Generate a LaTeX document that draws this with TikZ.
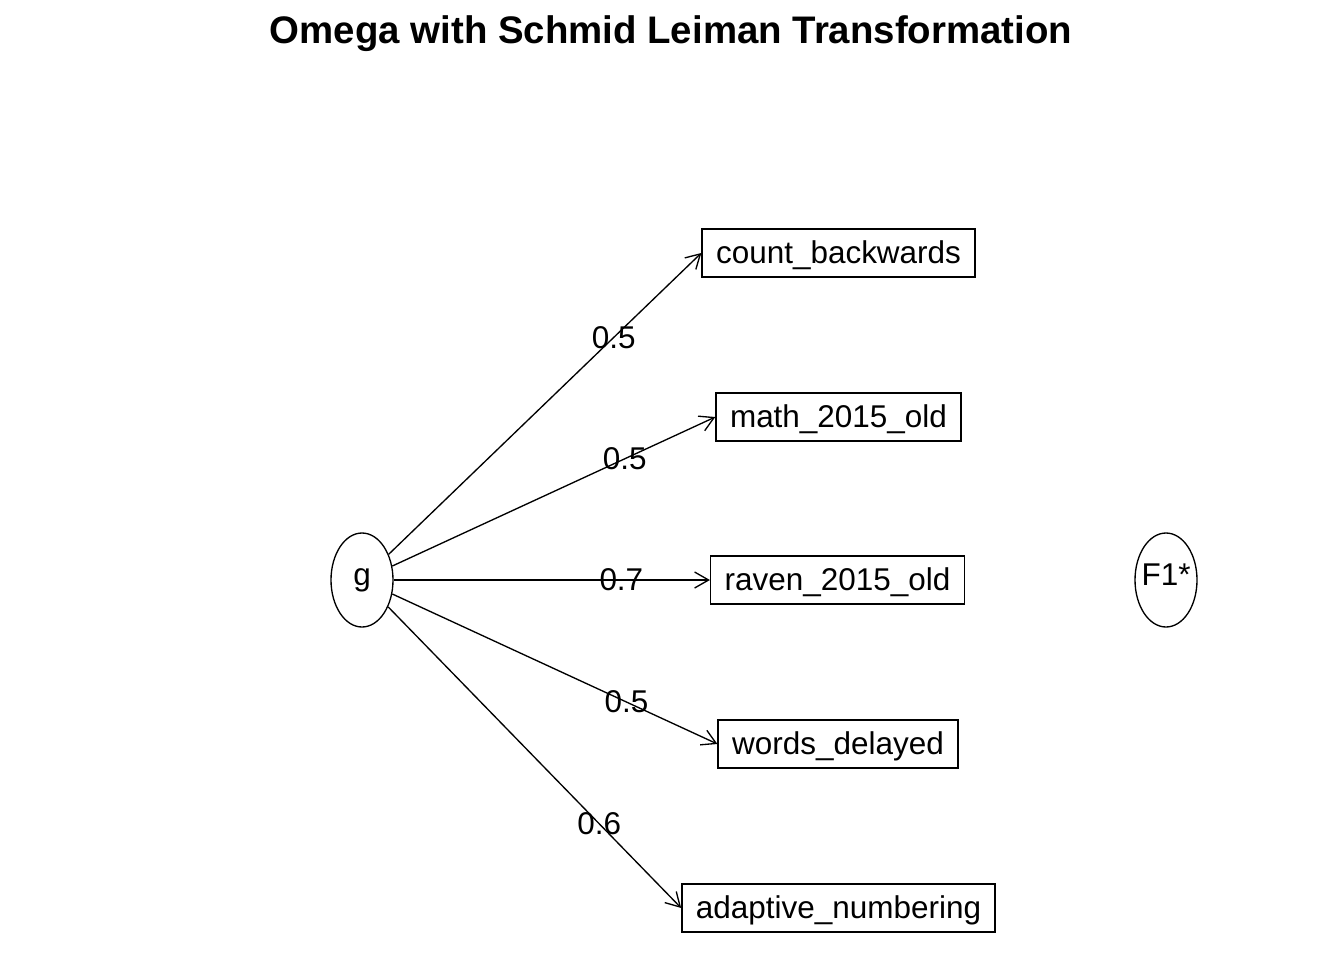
\documentclass[tikz,border=0pt]{standalone}
\usepackage{fontspec}
\setmainfont{Liberation Sans}
\usetikzlibrary{shapes.geometric,arrows.meta}
\begin{document}
\begin{tikzpicture}[x=0.75pt,y=-0.75pt,
  obsbox/.style={draw,line width=1.1pt,rectangle,minimum height=36pt,inner xsep=10.5pt,inner ysep=0pt,text height=17pt,text depth=2pt,font=\fontsize{23.6}{28}\selectfont},
  latent/.style={draw,line width=1pt,ellipse,inner sep=0pt,minimum width=46.5pt,minimum height=70.5pt,text height=9.5pt,text depth=2pt,font=\fontsize{23.6}{28}\selectfont},
  arr/.style={line width=1pt,-{Straight Barb[length=10.5pt,width=12pt,line width=1pt]}},
  lbl/.style={font=\fontsize{23.6}{28}\selectfont,inner sep=0pt}
]
\useasboundingbox (0,0) rectangle (1344,960);
\node[anchor=base,font=\bfseries\fontsize{28.8}{34}\selectfont] (title) at (671,43) {Omega with Schmid Leiman Transformation};
\node[latent] (g) at (362,580) {\makebox[0pt]{g}};
\node[latent] (f1) at (1166,580) {\makebox[0pt]{F1*}};
\node[obsbox] (cb) at (838.5,253) {count\_backwards};
\node[obsbox] (m15) at (838.5,417) {math\_2015\_old};
\node[obsbox] (r15) at (837.5,580) {raven\_2015\_old};
\node[obsbox] (wd) at (838,744) {words\_delayed};
\node[obsbox] (an) at (838.5,908) {adaptive\_numbering};
\draw[arr] (g) -- (cb.west) node[lbl,pos=0.72] {0.5};
\draw[arr] (g) -- (m15.west) node[lbl,pos=0.72] {0.5};
\draw[arr] (g) -- (r15.west) node[lbl,pos=0.72] {0.7};
\draw[arr] (g) -- (wd.west) node[lbl,pos=0.72] {0.5};
\draw[arr] (g) -- (an.west) node[lbl,pos=0.72] {0.6};
\end{tikzpicture}
\end{document}
